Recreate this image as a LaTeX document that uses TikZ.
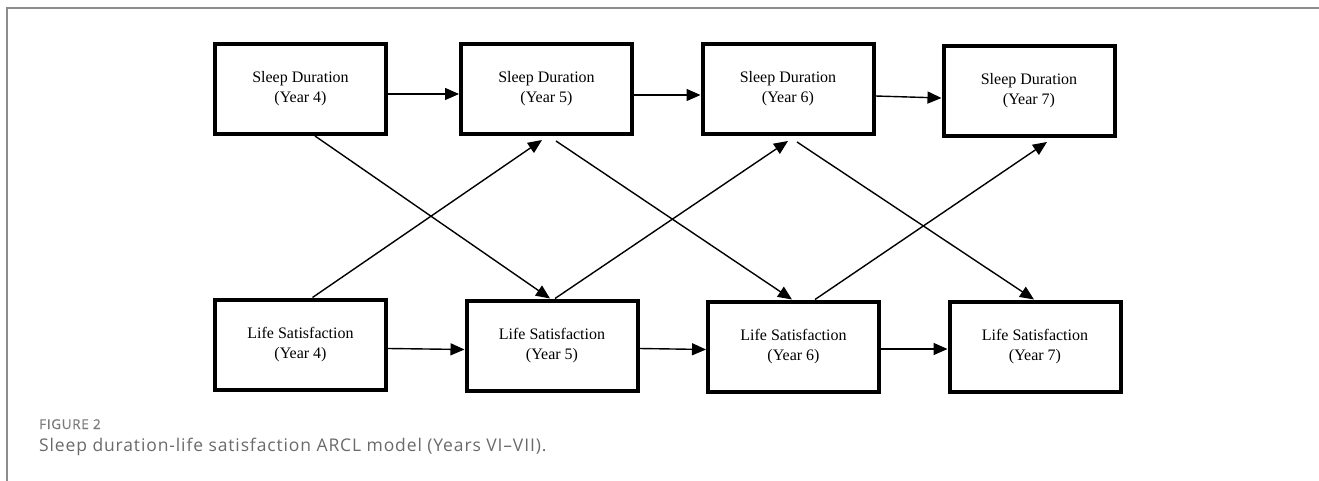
\documentclass[tikz,border=0pt]{standalone}
\usepackage{fontspec}
\setmainfont{Liberation Serif}
\newfontfamily\capfont[LetterSpace=5]{Open Sans}
\newfontfamily\figfont[LetterSpace=5,FakeBold=0.6]{Open Sans}
\usetikzlibrary{arrows.meta}
\definecolor{framegray}{HTML}{8C8C8C}
\definecolor{capgray}{HTML}{6A6A6A}
\definecolor{figgray}{HTML}{7A7A7A}
\begin{document}
\begin{tikzpicture}[x=1pt,y=-1pt,
  varbox/.style={draw=black,line width=4pt,minimum width=171pt,minimum height=90pt,
    align=center,font=\fontsize{16}{20}\selectfont,inner sep=0pt},
  conn/.style={line width=1.4pt,-{Triangle[length=14pt,width=12pt]}}]
\useasboundingbox (0,0) rectangle (1319,481);
\draw[framegray,line width=2pt] (7,481) -- (7,8) -- (1319,8);
\node[varbox] (SD4) at (300.5,89) {Sleep Duration\\(Year 4)};
\node[varbox] (SD5) at (546.5,89) {Sleep Duration\\(Year 5)};
\node[varbox] (SD6) at (788,89) {Sleep Duration\\(Year 6)};
\node[varbox] (SD7) at (1029,91) {Sleep Duration\\(Year 7)};
\node[varbox] (LS4) at (300.5,344.5) {Life Satisfaction\\(Year 4)};
\node[varbox] (LS5) at (552,345.5) {Life Satisfaction\\(Year 5)};
\node[varbox] (LS6) at (793.5,346.5) {Life Satisfaction\\(Year 6)};
\node[varbox] (LS7) at (1035,346.5) {Life Satisfaction\\(Year 7)};
% autoregressive paths
\draw[conn] ([yshift=-5pt]SD4.east) -- ([yshift=-5pt]SD5.west);
\draw[conn] ([yshift=-6pt]SD5.east) -- ([yshift=-6pt]SD6.west);
\draw[conn] ([yshift=-7pt]SD6.east) -- ([yshift=-7pt]SD7.west);
\draw[conn] ([yshift=-4pt]LS4.east) -- ([yshift=-4pt]LS5.west);
\draw[conn] ([yshift=-3pt]LS5.east) -- ([yshift=-3pt]LS6.west);
\draw[conn] ([yshift=-2.5pt]LS6.east) -- ([yshift=-2.5pt]LS7.west);
% cross-lagged paths
\draw[conn] ([xshift=14.5pt]SD4.south) -- ([xshift=-2pt]LS5.north);
\draw[conn] ([xshift=12pt]LS4.north) -- ([xshift=-4.5pt,yshift=-4pt]SD5.south);
\draw[conn] ([xshift=9.5pt,yshift=-5pt]SD5.south) -- ([xshift=-1.5pt]LS6.north);
\draw[conn] ([xshift=3pt]LS5.north) -- ([xshift=0pt,yshift=-5pt]SD6.south);
\draw[conn] ([xshift=9pt,yshift=-6pt]SD6.south) -- ([xshift=-1pt]LS7.north);
\draw[conn] ([xshift=21.5pt]LS6.north) -- ([xshift=18pt,yshift=-4pt]SD7.south);
% caption
\node[anchor=base west,inner sep=0pt,text=figgray,font=\figfont\fontsize{13.5}{15}\selectfont] (fig) at (39,429) {FIGURE 2};
\node[anchor=base west,inner sep=0pt,text=capgray,font=\capfont\fontsize{17.5}{20}\selectfont] (cap) at (39,451) {Sleep duration-life satisfaction ARCL model (Years VI–VII).};
\end{tikzpicture}
\end{document}
